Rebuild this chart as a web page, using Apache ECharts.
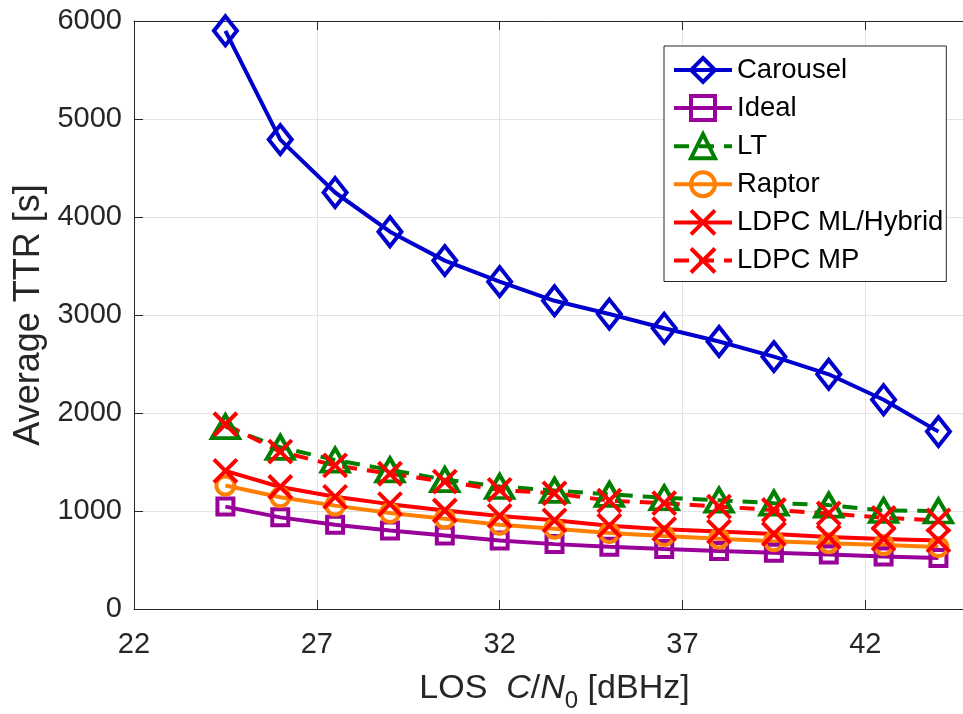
<!DOCTYPE html>
<html>
<head>
<meta charset="utf-8">
<script src="https://cdn.jsdelivr.net/npm/echarts@6/dist/echarts.min.js"></script>
<style>html,body{margin:0;padding:0;background:#fff}#c{width:963px;height:714px}</style>
</head>
<body>
<div id="c"></div>
<script>
const xValues = [24.5, 26, 27.5, 29, 30.5, 32, 33.5, 35, 36.5, 38, 39.5, 41, 42.5, 44];
const carousel = [5900, 4790, 4250, 3850, 3555, 3340, 3145, 3010, 2865, 2730, 2575, 2395, 2135, 1810];
const ideal = [1045, 935, 860, 800, 750, 700, 662, 635, 612, 593, 575, 556, 535, 520];
const lt = [1860, 1650, 1520, 1420, 1320, 1250, 1210, 1170, 1135, 1110, 1080, 1060, 1005, 1000];
const raptor = [1260, 1140, 1055, 980, 920, 860, 820, 775, 745, 718, 692, 672, 652, 632];
const ldpcML = [1410, 1245, 1145, 1070, 1005, 950, 905, 850, 815, 790, 765, 735, 715, 700];
const ldpcMP = [1885, 1605, 1465, 1380, 1300, 1215, 1180, 1105, 1080, 1045, 1010, 975, 930, 905];
const seriesNames = ['Carousel', 'Ideal', 'LT', 'Raptor', 'LDPC ML/Hybrid', 'LDPC MP'];
const xTicks = [22, 27, 32, 37, 42];
const yTicks = [0, 1000, 2000, 3000, 4000, 5000, 6000];

const FONT = '"Liberation Sans", Arial, Helvetica, sans-serif';
const XPATH = 'path://M0,0L20,20M20,0L0,20';
const AX = '#262626';

function pts(arr) { return xValues.map((x, i) => [x, arr[i]]); }
function mk(name, arr, color, symbol, size, dashed) {
  return {
    name: name, type: 'line', data: pts(arr),
    symbol: symbol, symbolSize: size,
    lineStyle: { color: color, width: 4, type: dashed ? [15, 10] : 'solid' },
    itemStyle: { color: 'rgba(0,0,0,0)', borderColor: color, borderWidth: 4 },
    emphasis: { disabled: true },
    animation: false, z: 2
  };
}

const chart = echarts.init(document.getElementById('c'), null, { renderer: 'canvas' });
chart.setOption({
  animation: false,
  backgroundColor: '#fff',
  textStyle: { fontFamily: FONT },
  grid: { left: 134, top: 21, right: -12, bottom: 105, containLabel: false, outerBoundsMode: 'none' },
  legend: {
    orient: 'vertical', left: 664, top: 46,
    padding: [10, 3, 7, 8],
    itemWidth: 58, itemHeight: 30, itemGap: 10.1,
    backgroundColor: '#fff', borderColor: AX, borderWidth: 1,
    itemStyle: { borderWidth: 4 },
    lineStyle: { width: 4 },
    textStyle: { fontSize: 27.5, color: '#000', fontFamily: FONT },
    data: seriesNames
  },
  xAxis: [{
    type: 'value', min: 22, max: 45, interval: 5,
    name: '{a|LOS  }{i|C}{a|/}{i|N}{s|0}{a| [dBHz]}',
    nameLocation: 'middle', nameGap: 56,
    nameTextStyle: {
      rich: {
        a: { fontSize: 34, color: AX, fontFamily: FONT },
        i: { fontSize: 34, color: AX, fontStyle: 'italic', fontFamily: FONT },
        s: { fontSize: 24, color: AX, fontFamily: FONT, padding: [24, 0, 0, 0] }
      }
    },
    axisLine: { show: true, onZero: false, lineStyle: { color: AX, width: 1 } },
    axisTick: { show: true, inside: true, length: 9, lineStyle: { color: AX } },
    axisLabel: { fontSize: 29, color: AX, margin: 21, fontFamily: FONT, showMaxLabel: false, formatter: v => String(v) },
    splitLine: { show: true, lineStyle: { color: '#e3e3e3', width: 1 } }
  }, {
    type: 'value', min: 22, max: 45, interval: 5, position: 'top',
    axisLine: { show: true, onZero: false, lineStyle: { color: AX, width: 1 } },
    axisTick: { show: true, inside: true, length: 9, lineStyle: { color: AX } },
    axisLabel: { show: false }, splitLine: { show: false }
  }],
  yAxis: {
    type: 'value', min: 0, max: 6000, interval: 1000,
    name: 'Average TTR [s]', nameLocation: 'middle', nameGap: 78,
    nameTextStyle: { fontSize: 36, color: AX, fontFamily: FONT },
    axisLine: { show: true, lineStyle: { color: AX, width: 1 } },
    axisTick: { show: true, inside: true, length: 9, lineStyle: { color: AX } },
    axisLabel: { fontSize: 29, color: AX, margin: 12, fontFamily: FONT, formatter: v => String(v) },
    splitLine: { show: true, lineStyle: { color: '#e3e3e3', width: 1 } }
  },
  series: [
    mk(seriesNames[0], carousel, '#0000cc', 'diamond', [23, 29], false),
    mk(seriesNames[1], ideal, '#990099', 'rect', 16, false),
    mk(seriesNames[2], lt, '#008000', 'triangle', [27, 23], true),
    mk(seriesNames[3], raptor, '#ff8000', 'circle', 18, false),
    mk(seriesNames[4], ldpcML, '#ff0000', XPATH, 23, false),
    mk(seriesNames[5], ldpcMP, '#ff0000', XPATH, 23, true)
  ]
});
</script>
</body>
</html>
